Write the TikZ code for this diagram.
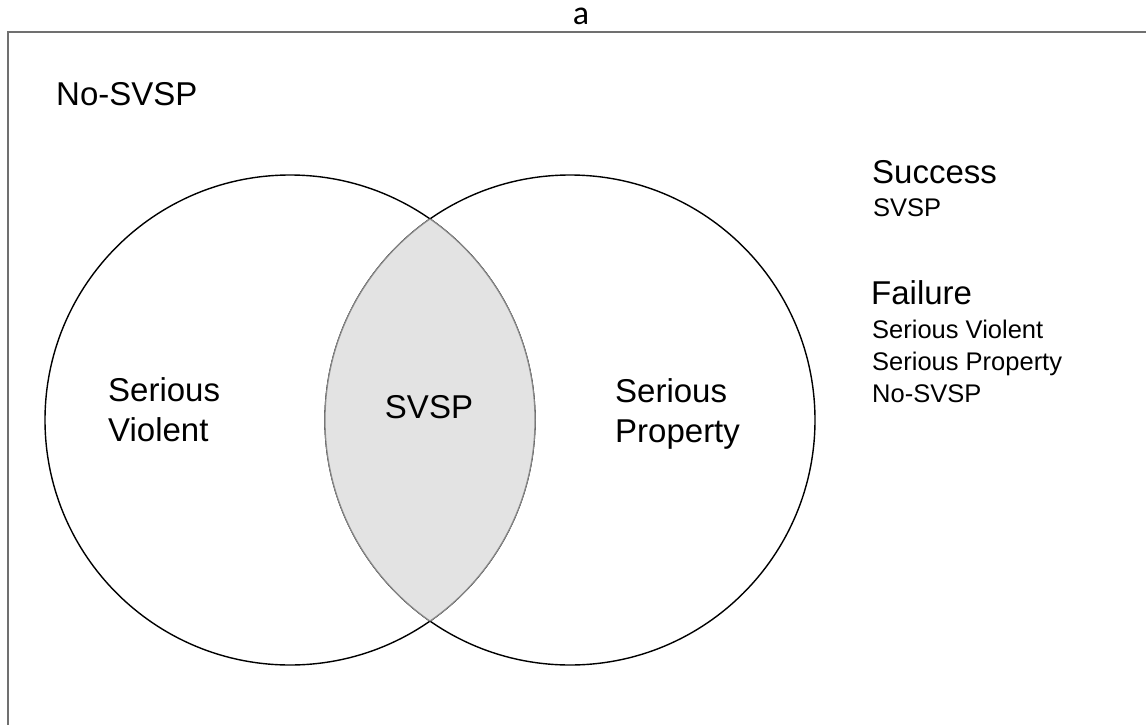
\documentclass[tikz,border=0pt]{standalone}
\usepackage{fontspec}
\usepackage{xcolor}
\usepackage{tikz}
\setmainfont{Liberation Sans}
\newfontfamily\calibrifont{Carlito}
\definecolor{lensgray}{HTML}{E3E3E3}
\definecolor{lensline}{HTML}{8A8A8A}
\definecolor{framegray}{HTML}{707070}
\tikzset{every picture/.style={x=1pt,y=-1pt},
    vset/.style={circle, draw=black, line width=1.4pt, minimum size=490pt, inner sep=0pt},
    biglbl/.style={font=\fontsize{33}{40}\selectfont, inner sep=0pt, align=left},
    smalllbl/.style={font=\fontsize{25.5}{32}\selectfont, inner sep=0pt, align=left}}

\begin{document}
\begin{tikzpicture}

    \useasboundingbox (0,0) rectangle (1146,725);
    \fill[white] (0,0) rectangle (1146,725);

    \node[font=\calibrifont\fontsize{34}{40}\selectfont, inner sep=0pt, anchor=base] (title) at (581,25){a};
    \coordinate (framebl) at (8,740);
    \coordinate (frametr) at (1160,32);
    \draw[framegray, line width=1.6pt] (framebl) |- (frametr);

    \node[vset] (violent) at (290,420){};
    \node[vset] (property) at (570,420){};

    \begin{scope}
        \clip (violent.center) circle[radius=245];
        \fill[lensgray] (property.center) circle[radius=245];
        \draw[lensline, line width=1.2pt] (property.center) circle[radius=245];
    \end{scope}
    \begin{scope}
        \clip (property.center) circle[radius=245];
        \draw[lensline, line width=1.2pt] (violent.center) circle[radius=245];
    \end{scope}

    \node[biglbl, anchor=base west] (nosvsp) at (56,105){No-SVSP};
    \node[biglbl, anchor=north west] (violentlbl) at (108,377){Serious\\Violent};
    \node[biglbl, anchor=base] (svsp) at (429,418){SVSP};
    \node[biglbl, anchor=north west] (propertylbl) at (615,378){Serious\\Property};

    \node[biglbl, anchor=base west] (success) at (872,183){Success};
    \node[smalllbl, anchor=base west] (successlist) at (873,216){SVSP};
    \node[biglbl, anchor=base west] (failure) at (871,304){Failure};
    \node[smalllbl, anchor=north west] (failurelist) at (872,320){Serious Violent\\Serious Property\\No-SVSP};
  \end{tikzpicture}
\end{document}
